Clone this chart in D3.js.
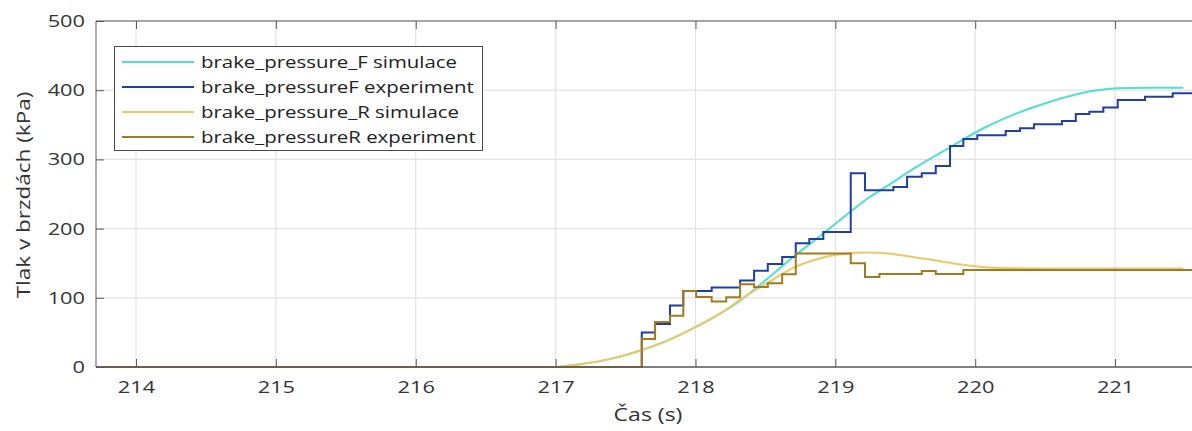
<!DOCTYPE html>
<html><head><meta charset="utf-8">
<script src="https://cdn.jsdelivr.net/npm/d3@7"></script>
<style>body{margin:0;background:#fff}svg{display:block}text{font-family:"Open Sans","Noto Sans",sans-serif}</style>
</head><body><svg id="c" width="1192" height="431"></svg>
<script>
// ---- data ----
const xTicks = [214,215,216,217,218,219,220,221];
const yTicks = [0,100,200,300,400,500];
const seriesNames = ["brake_pressure_F simulace","brake_pressureF experiment","brake_pressure_R simulace","brake_pressureR experiment"];
// simulation F (time s, kPa)
const simF_t = [213.71,216.9,217.0,217.1,217.21,217.318,217.46,217.616,217.82,218.0,218.175,218.3,218.51,218.712,218.914,219.105,219.248,219.343,219.582,219.82,220.058,220.297,220.535,220.773,220.9,221.012,221.25,221.488];
const simF_v = [0,0,0,2,5,8.5,15,24.5,40,57.5,77,93,127,161,193,224,246,258,289.5,317.5,345,366.6,383.4,396.4,400.5,402.7,403.5,403.6];
// simulation R
const simR_t = [213.71,216.9,217.0,217.1,217.21,217.318,217.46,217.616,217.82,218.0,218.175,218.319,218.51,218.717,218.855,219.0,219.225,219.46,219.582,219.7,219.82,219.999,220.178,220.5,221.488];
const simR_v = [0,0,0,2,5,8.5,15,24.5,40,57.5,77,97,121,145,155,162,165.5,162,158,154.5,150.5,145.5,143,142.5,142.5];
// experiment F (step after)
const expF_t = [213.70,217.616,217.711,217.818,217.913,218.116,218.319,218.419,218.517,218.62,218.717,218.814,218.914,219.11,219.212,219.415,219.513,219.618,219.718,219.82,219.915,220.015,220.218,220.32,220.42,220.62,220.719,220.816,220.916,221.019,221.214,221.412,221.6];
const expF_v = [0,50,62,89,110,115,125,139,149,159,179,185,195,280,255.5,260,275,280,290.5,319.5,329.5,335,341,345,350.7,355.5,365.6,369,375,385.8,390.6,395.5,395.5];
// experiment R (step after)
const expR_t = [213.70,217.616,217.711,217.818,217.913,218.005,218.116,218.22,218.319,218.419,218.517,218.62,218.717,219.11,219.212,219.315,219.618,219.718,219.915,221.6];
const expR_v = [0,40.5,65,74,110,101,94.5,100.7,119.5,115.5,121,134,164,150,130,134.4,138.7,134.4,140,140];
const colors = ["#4fe0d2","#1f3fa6","#efc766","#a27b1f"];

// ---- chart ----
const svg = d3.select("#c");
const L=96, T=21, R=1192, B=367;
const x = d3.scaleLinear().domain([213.714,221.55]).range([L,R]);
const y = d3.scaleLinear().domain([0,500]).range([B,T]);

// stretch text horizontally so it matches the reference's wide lettering
function stretch(sel, k){ sel.each(function(){ const w=this.getComputedTextLength(); d3.select(this).attr("textLength",w*k).attr("lengthAdjust","spacingAndGlyphs"); }); }

// grid
svg.append("g").selectAll("line").data(xTicks).join("line")
  .attr("x1",d=>x(d)).attr("x2",d=>x(d)).attr("y1",T).attr("y2",B)
  .attr("stroke","#e3e3e3").attr("stroke-width",1.2);
svg.append("g").selectAll("line").data(yTicks).join("line")
  .attr("x1",L).attr("x2",R).attr("y1",d=>y(d)).attr("y2",d=>y(d))
  .attr("stroke","#e3e3e3").attr("stroke-width",1.2);

// lines
const zip = (t,v)=>t.map((d,i)=>[d,v[i]]);
const lineSmooth = d3.line().x(d=>x(d[0])).y(d=>y(d[1])).curve(d3.curveMonotoneX);
const lineStep = d3.line().x(d=>x(d[0])).y(d=>y(d[1])).curve(d3.curveStepAfter);
svg.append("clipPath").attr("id","pc").append("rect").attr("x",L).attr("y",T-2).attr("width",R-L+2).attr("height",B-T+4);
const g = svg.append("g").attr("clip-path","url(#pc)");
g.append("path").attr("d",lineSmooth(zip(simF_t,simF_v))).attr("fill","none").attr("stroke",colors[0]).attr("stroke-width",2);
g.append("path").attr("d",lineStep(zip(expF_t,expF_v))).attr("fill","none").attr("stroke",colors[1]).attr("stroke-width",2);
g.append("path").attr("d",lineSmooth(zip(simR_t,simR_v))).attr("fill","none").attr("stroke",colors[2]).attr("stroke-width",2);
g.append("path").attr("d",lineStep(zip(expR_t,expR_v))).attr("fill","none").attr("stroke",colors[3]).attr("stroke-width",2);

// axes frame
const ax = "#5a5a5a";
svg.append("line").attr("x1",L).attr("x2",R+2).attr("y1",B).attr("y2",B).attr("stroke",ax).attr("stroke-width",1.3);
svg.append("line").attr("x1",L).attr("x2",R+2).attr("y1",T).attr("y2",T).attr("stroke",ax).attr("stroke-width",1);
svg.append("line").attr("x1",L).attr("x2",L).attr("y1",T).attr("y2",B).attr("stroke",ax).attr("stroke-width",1);

const xa = svg.append("g").attr("transform",`translate(0,${B})`)
  .call(d3.axisBottom(x).tickValues(xTicks).tickFormat(d3.format("d")).tickSizeInner(-8).tickSizeOuter(0).tickPadding(14));
xa.select(".domain").remove();
xa.selectAll("line").attr("stroke",ax);
xa.selectAll("text").attr("font-size",17).attr("fill","#333").call(stretch,1.28);
const xt = svg.append("g").attr("transform",`translate(0,${T})`)
  .call(d3.axisTop(x).tickValues(xTicks).tickFormat("").tickSizeInner(-8).tickSizeOuter(0));
xt.select(".domain").remove(); xt.selectAll("line").attr("stroke",ax);

const ya = svg.append("g").attr("transform",`translate(${L},0)`)
  .call(d3.axisLeft(y).tickValues(yTicks).tickFormat(d3.format("d")).tickSizeInner(-8).tickSizeOuter(0).tickPadding(11));
ya.select(".domain").remove();
ya.selectAll("line").attr("stroke",ax);
ya.selectAll("text").attr("font-size",17).attr("fill","#333").call(stretch,1.28);

// axis labels
svg.append("text").attr("x",648).attr("y",421).attr("text-anchor","middle").attr("font-size",18).attr("fill","#333").text("Čas (s)").call(stretch,1.28);
svg.append("text").attr("transform","translate(30,195) rotate(-90)").attr("text-anchor","middle").attr("font-size",18).attr("fill","#333").text("Tlak v brzdách (kPa)").call(stretch,1.25);

// legend
const lg = svg.append("g");
lg.append("rect").attr("x",114.5).attr("y",46.5).attr("width",368).attr("height",104).attr("fill","#fff").attr("stroke","#4a4a4a").attr("stroke-width",1);
const ly = d3.scalePoint().domain(seriesNames).range([62,137]);
seriesNames.forEach((n,i)=>{
  lg.append("line").attr("x1",122).attr("x2",194).attr("y1",ly(n)).attr("y2",ly(n)).attr("stroke",colors[i]).attr("stroke-width",2);
  lg.append("text").attr("x",201).attr("y",ly(n)).attr("dy","0.35em").attr("font-size",17).attr("fill","#222").text(n).attr("class","lt");
});
// fit legend texts so the first one spans the reference width
const first = lg.select("text.lt").node();
const kL = 256/first.getComputedTextLength();
lg.selectAll("text.lt").call(stretch,kL);
</script></body></html>
